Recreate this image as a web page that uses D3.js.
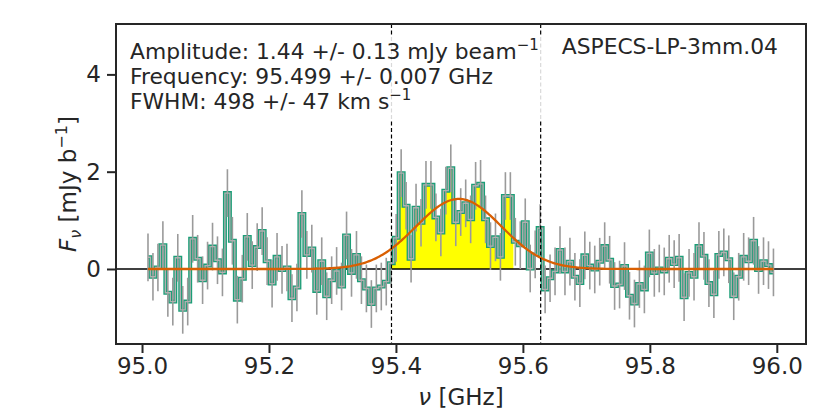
<!DOCTYPE html>
<html>
<head>
<meta charset="utf-8">
<script src="https://cdn.jsdelivr.net/npm/d3@7"></script>
<style>
  body { margin: 0; background: #fff; }
  text { font-family: "DejaVu Sans", sans-serif; fill: #262626; }
</style>
</head>
<body>
<svg id="chart"></svg>
<script>
// spectrum channels (GHz) - regular grid
const firstChannel = 95.0094;
const channelWidth = 0.00782;

// flux density per channel, mJy/beam
const flux = [
   0.24, -0.16,  0.03,  0.49, -0.49, -0.67,  0.23, -0.84, -0.67,  0.62,
   0.21, -0.23,  0.07,  0.46,  0.18, -0.07,  1.56,  0.58, -0.63, -0.20,
   0.66,  0.08,  0.45,  0.78,  0.16, -0.30,  0.25, -0.02,  0.03, -0.60,
  -0.38,  1.13,  0.29,  0.42, -0.45,  0.16, -0.56, -0.23, -0.04, -0.36,
   0.69, -0.08,  0.29, -0.23, -0.40, -0.72, -0.40, -0.36, -0.26,  0.12,
   0.64,  1.97,  1.30,  0.21,  1.26,  0.95,  1.73,  1.73,  1.06,  0.75,
   1.61,  2.07,  0.96,  1.17,  1.35,  1.02,  1.71,  1.75,  1.02,  0.47,
   0.65,  0.25,  1.50,  1.50,  0.56,  0.49,  0.96,  0.01,  0.30,  0.84,
  -0.42, -0.19, -0.05,  0.39, -0.05,  0.15, -0.16, -0.29,  0.28,  0.07,
  -0.01,  0.15,  0.47,  0.19, -0.35, -0.32,  0.06, -0.55, -0.71, -0.31,
  -0.42,  0.32, -0.08,  0.01, -0.05,  0.21,  0.10,  0.23, -0.58, -0.08,
  -0.16,  0.47,  0.27, -0.29, -0.52,  0.29,  0.34,  0.20, -0.56, -0.16,
   0.25,  0.16,  0.58, -0.02,  0.16,  0.08, -0.07
];
const channelRms = 0.49;

// gaussian fit
const fitAmplitude = 1.44;   // mJy/beam
const fitCenter = 95.499;    // GHz
const fitFwhmKms = 498;      // km/s

const lineWindow = [95.393, 95.628];   // dashed lines
const fillWindow = [95.393, 95.585];   // yellow area

const xTicks = [95.0, 95.2, 95.4, 95.6, 95.8, 96.0];
const yTicks = [0, 2, 4];
const sourceName = "ASPECS-LP-3mm.04";

function drawSpectrum() {
    const width = 831;
    const height = 415;
    const left = 116, right = 806, top = 24, bottom = 344;

    const svg = d3.select("#chart").attr("width", width).attr("height", height);

    const x = d3.scaleLinear().domain([94.959, 96.046]).range([left, right]);
    const y = d3.scaleLinear().domain([-1.542, 5.036]).range([bottom, top]);

    const data = flux.map((f, i) => ({ nu: firstChannel + i * channelWidth, f: f }));

    svg.append("clipPath").attr("id", "plotclip")
        .append("rect").attr("x", left).attr("y", top)
        .attr("width", right - left).attr("height", bottom - top);
    svg.append("clipPath").attr("id", "fillclip")
        .append("rect").attr("x", x(fillWindow[0])).attr("y", top)
        .attr("width", x(fillWindow[1]) - x(fillWindow[0])).attr("height", bottom - top);

    const plot = svg.append("g").attr("clip-path", "url(#plotclip)");

    // yellow line area
    const area = d3.area().curve(d3.curveStep)
        .x(d => x(d.nu)).y0(y(0)).y1(d => y(d.f));
    plot.append("path").datum(data)
        .attr("clip-path", "url(#fillclip)")
        .attr("d", area)
        .attr("fill", "#ffff00");

    // zero line
    plot.append("line")
        .attr("x1", left).attr("x2", right)
        .attr("y1", y(0)).attr("y2", y(0))
        .attr("stroke", "#000").attr("stroke-width", 1.3);

    const step = d3.line().curve(d3.curveStep).x(d => x(d.nu)).y(d => y(d.f));

    plot.append("path").datum(data)
        .attr("d", step)
        .attr("fill", "none")
        .attr("stroke", "#1b9e77")
        .attr("stroke-width", 4);

    // error bars + thin gray steps on top
    plot.selectAll("line.err").data(data).join("line")
        .attr("class", "err")
        .attr("x1", d => x(d.nu)).attr("x2", d => x(d.nu))
        .attr("y1", d => y(d.f - channelRms)).attr("y2", d => y(d.f + channelRms))
        .attr("stroke", "#9a9a9a").attr("stroke-width", 1.6);
    plot.append("path").datum(data)
        .attr("d", step)
        .attr("fill", "none")
        .attr("stroke", "#b0b0b0")
        .attr("stroke-width", 1.4);

    // model
    const c = 299792.458;
    const sigma = fitFwhmKms / c * fitCenter / (2 * Math.sqrt(2 * Math.log(2)));
    const nuGrid = d3.range(0, 401).map(k => data[0].nu + k / 400 * (data[data.length - 1].nu - data[0].nu));
    const model = nuGrid.map(nu => ({ nu: nu, f: fitAmplitude * Math.exp(-0.5 * Math.pow((nu - fitCenter) / sigma, 2)) }));
    plot.append("path").datum(model)
        .attr("d", d3.line().x(d => x(d.nu)).y(d => y(d.f)))
        .attr("fill", "none")
        .attr("stroke", "#d95f02")
        .attr("stroke-width", 2.3);

    // dashed window lines
    plot.selectAll("line.win").data(lineWindow).join("line")
        .attr("class", "win")
        .attr("x1", d => x(d)).attr("x2", d => x(d))
        .attr("y1", top).attr("y2", bottom)
        .attr("stroke", "#000").attr("stroke-width", 1.2)
        .attr("stroke-dasharray", "4,2.5");

    // text box (semi transparent white)
    svg.append("rect")
        .attr("x", 124).attr("y", 37).attr("width", 420).attr("height", 82)
        .attr("fill", "#fff").attr("fill-opacity", 0.85);

    const fs = 21.8;
    const ann = svg.append("g").attr("font-size", fs);
    const l1 = ann.append("text").attr("x", 130).attr("y", 59);
    l1.append("tspan").text("Amplitude: 1.44 +/- 0.13 mJy beam");
    l1.append("tspan").attr("dy", -9).attr("font-size", 15).text("\u22121");
    ann.append("text").attr("x", 130).attr("y", 84).text("Frequency: 95.499 +/- 0.007 GHz");
    const l3 = ann.append("text").attr("x", 130).attr("y", 109);
    l3.append("tspan").text("FWHM: 498 +/- 47 km s");
    l3.append("tspan").attr("dy", -9).attr("font-size", 15).text("\u22121");

    svg.append("text")
        .attr("x", 778).attr("y", 54)
        .attr("text-anchor", "end")
        .attr("font-size", fs)
        .text(sourceName);

    // frame
    svg.append("rect")
        .attr("x", left).attr("y", top)
        .attr("width", right - left).attr("height", bottom - top)
        .attr("fill", "none").attr("stroke", "#262626").attr("stroke-width", 2);

    // axes
    const xAxis = d3.axisBottom(x).tickValues(xTicks).tickFormat(d3.format(".1f"))
        .tickSize(9).tickPadding(5);
    const gx = svg.append("g").attr("transform", `translate(0,${bottom})`).call(xAxis);
    const yAxis = d3.axisLeft(y).tickValues(yTicks).tickFormat(d3.format("d"))
        .tickSize(9).tickPadding(6);
    const gy = svg.append("g").attr("transform", `translate(${left},0)`).call(yAxis);
    [gx, gy].forEach(g => {
        g.select(".domain").remove();
        g.selectAll(".tick line").attr("stroke", "#262626").attr("stroke-width", 2);
        g.selectAll(".tick text").attr("font-size", 23).attr("fill", "#262626")
            .style("font-family", "DejaVu Sans, sans-serif");
    });

    // axis labels
    const xl = svg.append("text")
        .attr("x", (left + right) / 2).attr("y", 405)
        .attr("text-anchor", "middle").attr("font-size", 23);
    xl.append("tspan").attr("font-style", "italic").text("\u03bd");
    xl.append("tspan").text(" [GHz]");

    const yl = svg.append("text")
        .attr("transform", `translate(76,${(top + bottom) / 2}) rotate(-90)`)
        .attr("text-anchor", "middle").attr("font-size", 23);
    yl.append("tspan").attr("font-style", "italic").text("F");
    yl.append("tspan").attr("font-style", "italic").attr("font-size", 16).attr("dy", 5).text("\u03bd");
    yl.append("tspan").attr("dy", -5).text(" [mJy b");
    yl.append("tspan").attr("font-size", 16).attr("dy", -9).text("\u22121");
    yl.append("tspan").attr("dy", 9).text("]");
}

drawSpectrum();
</script>
</body>
</html>
